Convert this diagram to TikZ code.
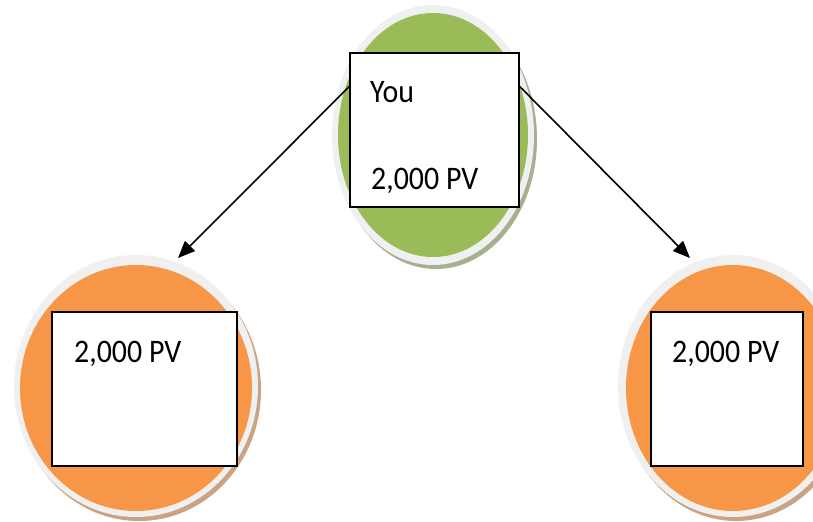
\documentclass[tikz,border=0pt]{standalone}
\usepackage{fontspec}
\setmainfont{Carlito}
\usetikzlibrary{arrows.meta}
\definecolor{ggreen}{HTML}{9BBB59}
\definecolor{gorange}{HTML}{F79646}
\definecolor{ringgray}{HTML}{F0F0F0}
\definecolor{gshadow}{HTML}{A3B18E}
\definecolor{oshadow}{HTML}{C9A383}
\tikzset{
  valbox/.style={draw=black, line width=1.5bp, fill=white, inner sep=0pt},
  valtext/.style={anchor=base west, inner sep=0pt, font=\fontsize{30}{36}\selectfont, text=black, yscale=1.1},
  link/.style={draw=black, line width=1.6bp, -{Triangle[length=17bp,width=14bp]}}
}
\begin{document}
\begin{tikzpicture}[x=1bp,y=-1bp]
\useasboundingbox (0,0) rectangle (813,522);
\clip (0,0) rectangle (813,522);
% top green ellipse
\fill[gshadow] (436,139) ellipse [x radius=101, y radius=130];
\fill[ringgray] (433,135) ellipse [x radius=101, y radius=130];
\fill[ggreen] (433,135) ellipse [x radius=95, y radius=122];
% left orange
\fill[oshadow] (139,390) ellipse [x radius=122, y radius=131];
\fill[ringgray] (136,386) ellipse [x radius=122, y radius=131];
\fill[gorange] (136,388) ellipse [x radius=116, y radius=123];
% right orange
\fill[oshadow] (736,390) ellipse [x radius=115, y radius=131];
\fill[ringgray] (733,386) ellipse [x radius=115, y radius=131];
\fill[gorange] (733,388) ellipse [x radius=107, y radius=123];
% boxes
\node[valbox, minimum width=169bp, minimum height=154bp] (topbox) at (434.5,130) {};
\node[valbox, minimum width=185bp, minimum height=154bp] (leftbox) at (144.5,389) {};
\node[valbox, minimum width=152bp, minimum height=154bp] (rightbox) at (727,389) {};
% texts
\node[valtext] (you) at (370,103) {You};
\node[valtext] (toppv) at (371,190) {2,000 PV};
\node[valtext] (leftpv) at (74,362) {2,000 PV};
\node[valtext] (rightpv) at (672,362) {2,000 PV};
% arrows
\coordinate (lefttip) at (178,258);
\coordinate (righttip) at (690,258);
\draw[link] (topbox.153.6) -- (lefttip);
\draw[link] (topbox.27.2) -- (righttip);
\end{tikzpicture}
\end{document}
